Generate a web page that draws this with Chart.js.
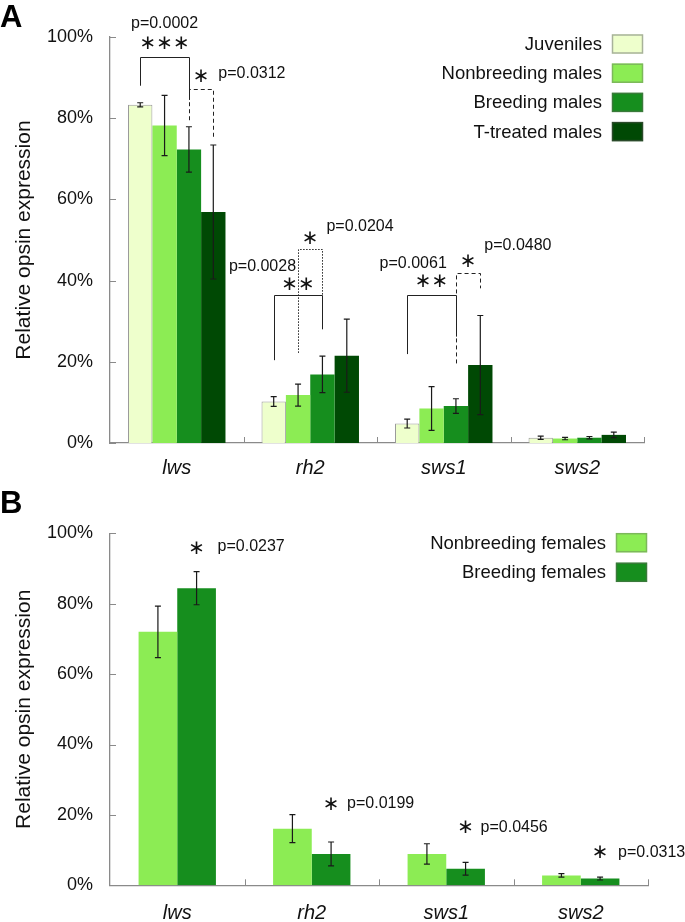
<!DOCTYPE html>
<html>
<head>
<meta charset="utf-8">
<script src="https://cdn.jsdelivr.net/npm/chart.js@4.4.1/dist/chart.umd.min.js"></script>
<style>
  html, body { margin: 0; padding: 0; background: #fff; }
  .panel { position: relative; width: 685px; }
  canvas { display: block; }
</style>
</head>
<body>
<div class="panel" style="height:482px"><canvas id="chartA"></canvas></div>
<div class="panel" style="height:440px"><canvas id="chartB"></canvas></div>
<script>
// categories and tick values
const genes = ['lws', 'rh2', 'sws1', 'sws2'];
const yTicks = [0, 20, 40, 60, 80, 100];

// panel A, males (% of total opsin expression, mean and error)
const juveniles = [83.3, 10.2, 4.8, 1.3];
const juvenilesErr = [0.5, 1.2, 1.1, 0.4];
const nonbreedingMales = [78.2, 11.8, 8.5, 1.1];
const nonbreedingMalesErr = [7.4, 2.7, 5.4, 0.3];
const breedingMales = [72.3, 16.9, 9.1, 1.3];
const breedingMalesErr = [5.6, 4.5, 1.8, 0.3];
const tTreatedMales = [56.9, 21.5, 19.2, 2.0];
const tTreatedMalesErr = [16.5, 9.0, 12.2, 0.7];

// panel B, females
const nonbreedingFemales = [72.0, 16.1, 8.9, 2.8];
const nonbreedingFemalesErr = [7.3, 4.0, 2.9, 0.5];
const breedingFemales = [84.4, 8.9, 4.7, 1.9];
const breedingFemalesErr = [4.7, 3.4, 1.8, 0.4];

const FONT = "'Liberation Sans', Arial, sans-serif";
const STAR_FONT = "'DejaVu Sans', sans-serif";
const AXIS_COLOR = '#8a8a8a';

// significance marks: brackets between bars and text labels
const annotA = {
  brackets: [
    { cat: 0, from: 0, to: 2, y: 95.1, leftEnd: 88, rightEnd: 84.5, dash: [] },
    { cat: 0, from: 2, to: 3, y: 87.1, leftEnd: 79.5, rightEnd: 75.4, dash: [4, 3] },
    { cat: 1, from: 0, to: 2, y: 36.5, leftEnd: 20.4, rightEnd: 28, dash: [] },
    { cat: 1, from: 1, to: 2, y: 47.7, leftEnd: 22.2, rightEnd: 36.5, dash: [1.5, 1.5] },
    { cat: 2, from: 0, to: 2, y: 36.5, leftEnd: 21.9, rightEnd: 26.2, dash: [] },
    { cat: 2, from: 2, to: 3, y: 41.8, leftEnd: 19.6, rightEnd: 38.1, dash: [4, 3] },
  ],
  labels: [
    { cat: 0, from: 0, to: 2, y: 98.4, text: '∗∗∗', star: true },
    { cat: 0, from: 0, to: 2, y: 103.2, text: 'p=0.0002', align: 'center' },
    { cat: 0, from: 2, to: 3, y: 90.2, text: '∗', star: true },
    { cat: 0, from: 3, to: 3, dx: 5, y: 91.1, text: 'p=0.0312', align: 'left' },
    { cat: 1, from: 0, to: 2, y: 38.9, text: '∗∗', star: true },
    { cat: 1, from: 1, to: 1, dx: -2, y: 43.4, text: 'p=0.0028', align: 'right' },
    { cat: 1, from: 1, to: 2, y: 50.2, text: '∗', star: true },
    { cat: 1, from: 2, to: 2, dx: 4, y: 53.4, text: 'p=0.0204', align: 'left' },
    { cat: 2, from: 0, to: 2, y: 39.7, text: '∗∗', star: true },
    { cat: 2, from: 0, to: 0, dx: 6, y: 44.3, text: 'p=0.0061', align: 'center' },
    { cat: 2, from: 2, to: 3, y: 44.7, text: '∗', star: true },
    { cat: 2, from: 3, to: 3, dx: 4, y: 48.5, text: 'p=0.0480', align: 'left' },
  ],
};

const annotB = {
  brackets: [],
  labels: [
    { cat: 0, from: 1, to: 1, y: 95.7, text: '∗', star: true },
    { cat: 0, from: 1, to: 1, dx: 21, y: 96.2, text: 'p=0.0237', align: 'left' },
    { cat: 1, from: 1, to: 1, y: 22.8, text: '∗', star: true },
    { cat: 1, from: 1, to: 1, dx: 16, y: 23.3, text: 'p=0.0199', align: 'left' },
    { cat: 2, from: 1, to: 1, y: 16.2, text: '∗', star: true },
    { cat: 2, from: 1, to: 1, dx: 15, y: 16.5, text: 'p=0.0456', align: 'left' },
    { cat: 3, from: 1, to: 1, y: 9.1, text: '∗', star: true },
    { cat: 3, from: 1, to: 1, dx: 18, y: 9.4, text: 'p=0.0313', align: 'left' },
  ],
};

// error bars, inward ticks, legend, significance marks and panel letter
const extrasPlugin = {
  id: 'extras',
  afterDatasetsDraw(chart) {
    const ctx = chart.ctx;
    const y = chart.scales.y;
    ctx.save();
    ctx.strokeStyle = '#1a1a1a';
    ctx.lineWidth = 1.2;
    chart.data.datasets.forEach((ds, i) => {
      const meta = chart.getDatasetMeta(i);
      meta.data.forEach((bar, j) => {
        const v = ds.data[j], e = ds.errors[j];
        const yHi = y.getPixelForValue(v + e), yLo = y.getPixelForValue(v - e);
        ctx.beginPath();
        ctx.moveTo(bar.x, yHi); ctx.lineTo(bar.x, yLo);
        ctx.moveTo(bar.x - 3, yHi); ctx.lineTo(bar.x + 3, yHi);
        ctx.moveTo(bar.x - 3, yLo); ctx.lineTo(bar.x + 3, yLo);
        ctx.stroke();
      });
    });
    ctx.restore();
  },
  afterDraw(chart, args, opts) {
    const ctx = chart.ctx;
    const area = chart.chartArea;
    const xs = chart.scales.x, ys = chart.scales.y;
    ctx.save();

    // inward tick marks
    ctx.strokeStyle = AXIS_COLOR;
    ctx.lineWidth = 1;
    ctx.beginPath();
    yTicks.forEach(t => {
      const py = Math.round(ys.getPixelForValue(t)) + 0.5;
      ctx.moveTo(area.left, py); ctx.lineTo(area.left + 6, py);
    });
    for (let i = 1; i <= genes.length; i++) {
      const px = Math.round(xs.getPixelForValue(i - 0.5)) + 0.5;
      ctx.moveTo(px, area.bottom); ctx.lineTo(px, area.bottom - 6);
    }
    ctx.stroke();

    // legend: text on the left, box on the right
    ctx.font = '18.5px ' + FONT;
    ctx.textAlign = 'right';
    ctx.textBaseline = 'middle';
    chart.data.datasets.forEach((ds, i) => {
      const cy = area.top + opts.legendTop + i * opts.legendGap;
      const bx = area.right - 32;
      ctx.fillStyle = '#111';
      ctx.fillText(ds.label, bx - 10, cy + 1);
      ctx.fillStyle = ds.backgroundColor;
      ctx.fillRect(bx, cy - 9.5, 31, 19);
      ctx.strokeStyle = ds.legendBorder;
      ctx.lineWidth = 1.5;
      ctx.strokeRect(bx + 0.5, cy - 9, 30, 18);
    });

    // significance brackets
    const barX = (cat, ds) => chart.getDatasetMeta(ds).data[cat].x;
    ctx.strokeStyle = '#222';
    ctx.lineWidth = 1;
    opts.annot.brackets.forEach(b => {
      const x1 = Math.round(barX(b.cat, b.from)) + 0.5, x2 = Math.round(barX(b.cat, b.to)) + 0.5;
      const py = Math.round(ys.getPixelForValue(b.y)) + 0.5;
      ctx.setLineDash(b.dash);
      ctx.beginPath();
      ctx.moveTo(x1, ys.getPixelForValue(b.leftEnd));
      ctx.lineTo(x1, py);
      ctx.lineTo(x2, py);
      ctx.lineTo(x2, ys.getPixelForValue(b.rightEnd));
      ctx.stroke();
    });
    ctx.setLineDash([]);

    // stars and p-values
    opts.annot.labels.forEach(l => {
      const x = (barX(l.cat, l.from) + barX(l.cat, l.to)) / 2 + (l.dx || 0);
      const py = ys.getPixelForValue(l.y);
      ctx.fillStyle = '#111';
      ctx.textBaseline = 'middle';
      if (l.star) {
        ctx.font = '20px ' + STAR_FONT;
        ctx.textAlign = 'center';
      } else {
        ctx.font = '16px ' + FONT;
        ctx.textAlign = l.align;
      }
      ctx.fillText(l.text, x, py);
    });

    // panel letter
    ctx.font = 'bold 31px ' + FONT;
    ctx.textAlign = 'left';
    ctx.textBaseline = 'alphabetic';
    ctx.fillStyle = '#000';
    ctx.fillText(opts.letter, 0, opts.letterY);
    ctx.restore();
  },
};

function makeChart(id, datasets, cfg) {
  const el = document.getElementById(id);
  el.width = 685;
  el.height = cfg.height;
  return new Chart(el, {
    type: 'bar',
    data: { labels: genes, datasets },
    options: {
      responsive: false,
      animation: false,
      events: [],
      layout: { padding: { top: cfg.top, right: cfg.right, left: 0, bottom: 0 } },
      datasets: { bar: { categoryPercentage: cfg.catPct, barPercentage: 1 } },
      scales: {
        x: {
          grid: { display: false, drawTicks: false },
          border: { display: true, color: AXIS_COLOR, width: 1.3 },
          ticks: {
            padding: cfg.xPad,
            color: '#111',
            font: { family: FONT, size: 20, style: 'italic' },
          },
          afterFit: s => { s.height = cfg.xHeight; },
        },
        y: {
          min: 0,
          max: 100,
          afterBuildTicks: s => { s.ticks = yTicks.map(v => ({ value: v })); },
          grid: { display: false, drawTicks: false },
          border: { display: true, color: AXIS_COLOR, width: 1.3 },
          ticks: {
            padding: 17,
            color: '#111',
            font: { family: FONT, size: 18 },
            callback: v => v + '%',
          },
          title: {
            display: true,
            text: 'Relative opsin expression',
            color: '#111',
            font: { family: FONT, size: 21 },
            padding: { top: 12, bottom: 0 },
          },
          afterFit: s => { s.width = 110; },
        },
      },
      plugins: {
        legend: { display: false },
        tooltip: { enabled: false },
        extras: {
          annot: cfg.annot,
          letter: cfg.letter,
          letterY: cfg.letterY,
          legendTop: cfg.legendTop,
          legendGap: cfg.legendGap,
        },
      },
    },
    plugins: [extrasPlugin],
  });
}

makeChart('chartA', [
  { label: 'Juveniles', data: juveniles, errors: juvenilesErr, backgroundColor: '#eeffcc',
    borderColor: '#9a9a9a', borderWidth: 1, legendBorder: '#a8b29a' },
  { label: 'Nonbreeding males', data: nonbreedingMales, errors: nonbreedingMalesErr,
    backgroundColor: '#8cec54', borderWidth: 0, legendBorder: '#7cb85a' },
  { label: 'Breeding males', data: breedingMales, errors: breedingMalesErr,
    backgroundColor: '#168e1e', borderWidth: 0, legendBorder: '#3a7a3a' },
  { label: 'T-treated males', data: tTreatedMales, errors: tTreatedMalesErr,
    backgroundColor: '#004904', borderWidth: 0, legendBorder: '#2a4a2a' },
], {
  height: 482, top: 37, right: 41, catPct: 0.73, xHeight: 39, xPad: 13,
  annot: annotA, letter: 'A', letterY: 27, legendTop: 7, legendGap: 29.2,
});

makeChart('chartB', [
  { label: 'Nonbreeding females', data: nonbreedingFemales, errors: nonbreedingFemalesErr,
    backgroundColor: '#8cec54', borderWidth: 0, legendBorder: '#7cb85a' },
  { label: 'Breeding females', data: breedingFemales, errors: breedingFemalesErr,
    backgroundColor: '#168e1e', borderWidth: 0, legendBorder: '#3a7a3a' },
], {
  height: 440, top: 51.3, right: 37, catPct: 0.575, xHeight: 36.7, xPad: 15.7,
  annot: annotB, letter: 'B', letterY: 31, legendTop: 9.4, legendGap: 29.6,
});
</script>
</body>
</html>
